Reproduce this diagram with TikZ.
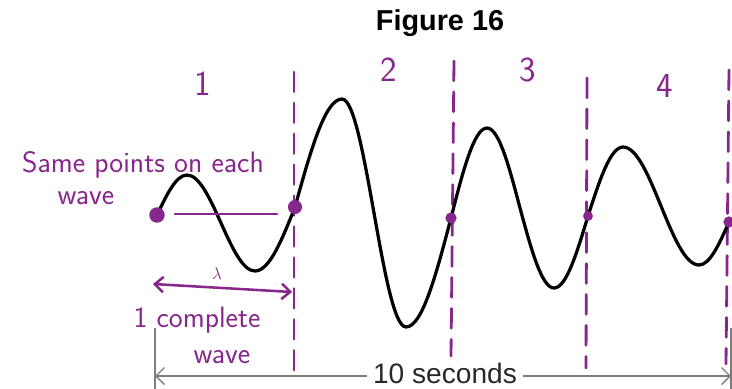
\documentclass[tikz,border=0pt]{standalone}
\usepackage{fontspec}
\newfontfamily\arialfont{Liberation Sans}
\usetikzlibrary{arrows.meta,positioning}
\definecolor{markpurple}{RGB}{135,38,140}
\definecolor{axisgray}{RGB}{125,125,125}
\definecolor{textgray}{RGB}{40,40,40}
\tikzset{
  wave/.style       = {line width=2.3pt, black, line cap=round},
  markline/.style   = {line width=2pt, markpurple, line cap=round,
                       dash pattern=on 14pt off 8pt},
  markstroke/.style = {line width=2pt, markpurple, line cap=round},
  markarrow/.style  = {line width=1.8pt, markpurple, line cap=round,
                       {Straight Barb[length=6pt,width=11pt]}-{Straight Barb[length=6pt,width=11pt]}},
  ptdot/.style      = {circle, fill=markpurple, inner sep=0pt, minimum size=10pt},
  hand/.style       = {markpurple, font=\sffamily\fontsize{21}{23}\selectfont, inner sep=0pt},
  handnum/.style    = {markpurple, font=\sffamily\fontsize{25}{27}\selectfont, inner sep=0pt},
  timeline/.style   = {line width=1pt, axisgray},
  timearrow/.style  = {line width=1pt, axisgray, shorten <=2pt,
                       -{Straight Barb[length=6pt,width=12pt]}},
  timelabel/.style  = {textgray, font=\arialfont\fontsize{20}{22}\selectfont, inner xsep=2pt, inner ysep=0pt},
}

\begin{document}
\begin{tikzpicture}[x=0.025cm,y=-0.025cm]
  \useasboundingbox (0,0) rectangle (732,389);

  % title
  \node[font=\arialfont\bfseries\fontsize{20.5}{22}\selectfont, inner sep=0pt] (title) at (440,23) {Figure 16};

  % same point on each wave
  \coordinate (P1) at (157,215);
  \coordinate (P2) at (295,207);
  \coordinate (P3) at (451,218);
  \coordinate (P4) at (588,216);
  \coordinate (P5) at (729,222);

  % dashed markers between waves
  \coordinate (A top) at (294,72);  \coordinate (A bot) at (294,373);
  \coordinate (B top) at (454,61);  \coordinate (B bot) at (451,356);
  \coordinate (C top) at (587,78);  \coordinate (C bot) at (586,368);
  \coordinate (D top) at (729,70);  \coordinate (D bot) at (726,364);
  \foreach \m in {A,B,C,D}
    \draw[markline] (\m\space top) -- (\m\space bot);

  % the wave
  \draw[wave] (P1) sin (187,175) cos (221,223) sin (255,271) cos (P2)
              sin (342,99) cos (374,213) sin (406,327) cos (P3)
              sin (487,128) cos (520,208) sin (554,288) cos (P4)
              sin (623,147) cos (661,206) sin (699,265) cos (P5);

  \node[ptdot, minimum size=11pt] (d1) at (P1) {};
  \node[ptdot] (d2) at (P2) {};
  \node[ptdot, minimum size=8pt] (d3) at (P3) {};
  \node[ptdot, minimum size=7pt] (d4) at (P4) {};
  \node[ptdot, minimum size=8pt] (d5) at (P5) {};

  \coordinate (h1) at (175,214);
  \coordinate (h2) at (277,214);
  \draw[markstroke] (h1) -- (h2);

  % wave numbers
  \node[handnum] (n1) at (203,84) {1};
  \node[handnum] (n2) at (389,70) {2};
  \node[handnum] (n3) at (528,70) {3};
  \node[handnum] (n4) at (665,86) {4};

  % notes
  \node[hand] (note1) at (143,165) {Same points on each};
  \node[hand] (note2) at (86,198) {wave};

  % wavelength
  \coordinate (lamL) at (153,284);
  \coordinate (lamR) at (292,292);
  \draw[markarrow] (lamL) -- (lamR);
  \node[markpurple, font=\fontsize{13}{14}\selectfont, inner sep=0pt] (lam) at (217,274) {$\lambda$};
  \node[hand] (comp1) at (197,320) {1 complete};
  \node[hand] (comp2) at (222,357) {wave};

  % ten seconds
  \coordinate (tL) at (155,376);
  \coordinate (tR) at (731,376);
  \draw[timeline] (155,328) -- (155,389);
  \draw[timeline] (731,328) -- (731,389);
  \node[timelabel] (tlabel) at (445,373) {10 seconds};
  \draw[timearrow] (tlabel.east |- tR) -- (tR);
  \draw[timearrow] (tlabel.west |- tL) -- (tL);
\end{tikzpicture}
\end{document}
